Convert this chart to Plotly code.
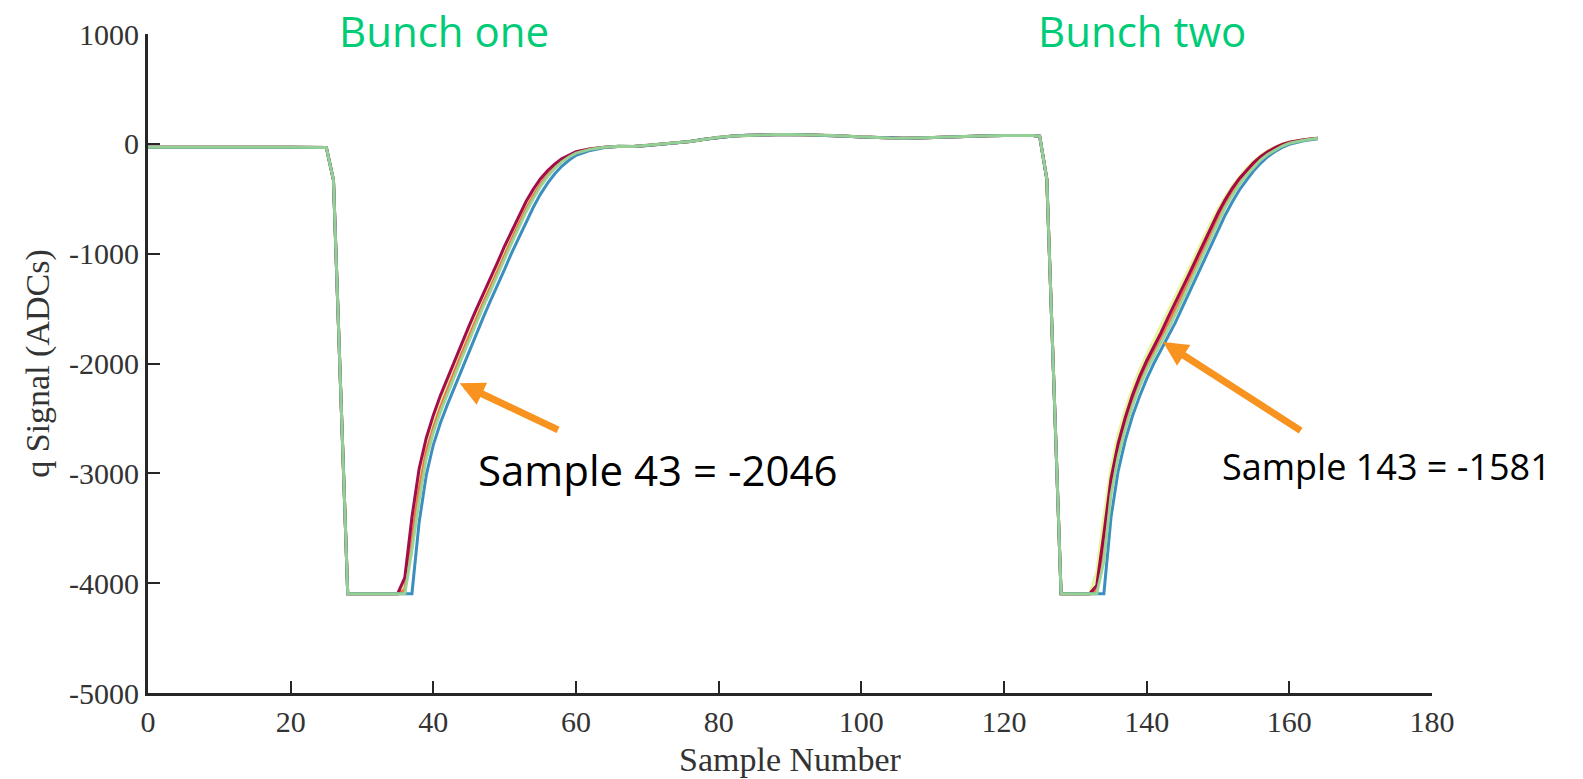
import plotly.graph_objects as go

# ---------------- data ----------------
ped_x = [0, 5, 10, 15, 20, 25]
ped_y = [-32, -30, -28, -30, -30, -33]
drop1_x = [26, 27, 28]
drop1_y = [-330, -2220, -4096]

rise1_x = [35, 36, 37, 38, 39, 40, 41, 42, 43, 44, 45, 46, 47, 48, 49, 50,
           51, 52, 53, 54, 55, 56, 57, 58, 59, 60, 62, 64, 66]
rise1_green = [-4096, -4096, -3700, -3250, -2870, -2630, -2440, -2270, -2110, -1950, -1790, -1630,
               -1480, -1340, -1190, -1050, -900, -760, -620, -500, -390, -300, -225, -165, -120,
               -85, -50, -30, -22]
rise1_crimson = [-4096, -3950, -3400, -2960, -2680, -2470, -2290, -2130, -1975, -1815, -1660, -1510,
                 -1370, -1220, -1080, -930, -790, -650, -525, -415, -320, -245, -185, -135, -100,
                 -72, -45, -30, -25]
rise1_blue = [-4096, -4096, -4096, -3450, -3020, -2740, -2540, -2370, -2210, -2046, -1890, -1730,
              -1580, -1430, -1290, -1140, -990, -850, -710, -580, -460, -360, -275, -205, -150,
              -105, -60, -33, -22]
rise1_yellow = [-4096, -4020, -3500, -3060, -2760, -2540, -2360, -2190, -2030, -1870, -1720, -1560,
                -1420, -1280, -1130, -990, -840, -700, -570, -455, -355, -270, -205, -150, -110,
                -78, -48, -30, -24]
rise1_orange = [-4096, -4060, -3600, -3150, -2810, -2590, -2400, -2230, -2070, -1910, -1755, -1595,
                -1450, -1310, -1160, -1020, -870, -730, -595, -478, -372, -285, -215, -158, -115,
                -82, -49, -30, -23]

plateau_x = [68, 70, 72, 74, 76, 78, 80, 82, 84, 86, 88, 90, 92, 94, 96, 98, 100, 102, 104,
             106, 108, 110, 112, 114, 116, 118, 120, 122, 124, 125]
plateau_y = [-25, -15, -2, 10, 22, 42, 60, 72, 78, 82, 84, 84, 83, 80, 76, 70, 62, 56, 52,
             50, 52, 57, 63, 68, 71, 74, 76, 77, 76, 70]
drop2_x = [126, 127, 128]
drop2_y = [-320, -2200, -4096]

rise2_x = list(range(132, 165))
rise2_green = [-4096, -4096, -3800, -3200, -2850, -2600, -2390, -2210, -2060, -1930, -1810, -1690,
               -1560, -1420, -1280, -1140, -1000, -850, -710, -580, -470, -370, -285, -210, -145,
               -95, -55, -20, 5, 22, 33, 42, 50]
rise2_crimson = [-4096, -4020, -3550, -3050, -2730, -2490, -2290, -2120, -1975, -1850, -1720, -1581,
                 -1450, -1320, -1180, -1040, -900, -760, -630, -510, -405, -315, -240, -170, -115,
                 -70, -35, -5, 15, 28, 37, 45, 52]
rise2_yellow = [-4096, -3900, -3400, -2950, -2650, -2420, -2230, -2060, -1920, -1790, -1660, -1530,
                -1400, -1270, -1130, -990, -850, -720, -600, -485, -385, -300, -225, -160, -105,
                -62, -28, 0, 18, 30, 38, 46, 53]
rise2_blue = [-4096, -4096, -4096, -3400, -2980, -2700, -2480, -2300, -2140, -2000, -1880, -1760,
              -1630, -1490, -1350, -1210, -1070, -920, -780, -650, -530, -420, -330, -245, -175,
              -115, -70, -32, -5, 15, 28, 38, 46]
rise2_orange = [-4096, -4060, -3650, -3120, -2790, -2545, -2340, -2165, -2015, -1890, -1765, -1635,
                -1505, -1370, -1230, -1090, -950, -805, -670, -545, -437, -342, -262, -190, -130,
                -82, -45, -12, 10, 25, 35, 43, 51]

series_names = ["yellow", "orange", "crimson", "blue", "green"]
series_colors = ["#e6f598", "#f46d43", "#9e0142", "#3288bd", "#99d594"]
rise1_all = [rise1_yellow, rise1_orange, rise1_crimson, rise1_blue, rise1_green]
rise2_all = [rise2_yellow, rise2_orange, rise2_crimson, rise2_blue, rise2_green]

x_ticks = [0, 20, 40, 60, 80, 100, 120, 140, 160, 180]
x_ticktext = ["0", "20", "40", "60", "80", "100", "120", "140", "160", "180"]
y_ticks = [-5000, -4000, -3000, -2000, -1000, 0, 1000]
y_ticktext = ["-5000", "-4000", "-3000", "-2000", "-1000", "0", "1000"]

# ---------------- figure ----------------
fig = go.Figure()
for name, col, r1, r2 in zip(series_names, series_colors, rise1_all, rise2_all):
    xs = ped_x + drop1_x + rise1_x + plateau_x + drop2_x + rise2_x
    ys = ped_y + drop1_y + r1 + plateau_y + drop2_y + r2
    fig.add_trace(go.Scatter(x=xs, y=ys, mode="lines", name=name,
                             line=dict(color=col, width=3), opacity=0.95))

serif = "Liberation Serif"
axis_common = dict(showline=True, linewidth=3, linecolor="#262626", ticks="inside",
                   ticklen=12, tickwidth=2, tickcolor="#262626", showgrid=False,
                   zeroline=False, mirror=False, automargin=False,
                   tickfont=dict(family=serif, size=30, color="#333333"))

fig.update_layout(
    width=1583, height=779,
    margin=dict(l=148, r=151, t=34, b=86),
    plot_bgcolor="white", paper_bgcolor="white",
    showlegend=False,
    xaxis=dict(range=[0, 180], tickmode="array", tickvals=x_ticks, ticktext=x_ticktext,
               title=dict(text="Sample Number", font=dict(family=serif, size=34, color="#333333"),
                          standoff=11),
               **axis_common),
    yaxis=dict(range=[-5000, 1000], tickmode="array", tickvals=y_ticks, ticktext=y_ticktext,
               title=dict(text="q Signal (ADCs)", font=dict(family=serif, size=34, color="#333333"),
                          standoff=10),
               **axis_common),
)

green_txt = "#00cc77"
sans = "Open Sans"
fig.add_annotation(x=41.5, xref="x", y=1.0056, yref="paper", yanchor="middle",
                   text="Bunch one", showarrow=False,
                   font=dict(family=sans, size=42, color=green_txt))
fig.add_annotation(x=139.4, xref="x", y=1.0056, yref="paper", yanchor="middle",
                   text="Bunch two", showarrow=False,
                   font=dict(family=sans, size=42, color=green_txt))
fig.add_annotation(x=71.4, y=-2965, text="Sample 43 = -2046", showarrow=False,
                   font=dict(family=sans, size=42, color="black"))
fig.add_annotation(x=173.6, y=-2937, text="Sample 143 = -1581", showarrow=False,
                   font=dict(family=sans, size=36, color="black"))

arrow_col = "#f7931e"
fig.add_annotation(x=43.7, y=-2180, ax=57.7, ay=-2610, axref="x", ayref="y",
                   xref="x", yref="y", text="", showarrow=True, arrowhead=2,
                   arrowsize=0.7, arrowwidth=7, arrowcolor=arrow_col, standoff=0)
fig.add_annotation(x=142.3, y=-1805, ax=161.8, ay=-2620, axref="x", ayref="y",
                   xref="x", yref="y", text="", showarrow=True, arrowhead=2,
                   arrowsize=0.7, arrowwidth=7, arrowcolor=arrow_col, standoff=0)

fig.write_html("out.html")
